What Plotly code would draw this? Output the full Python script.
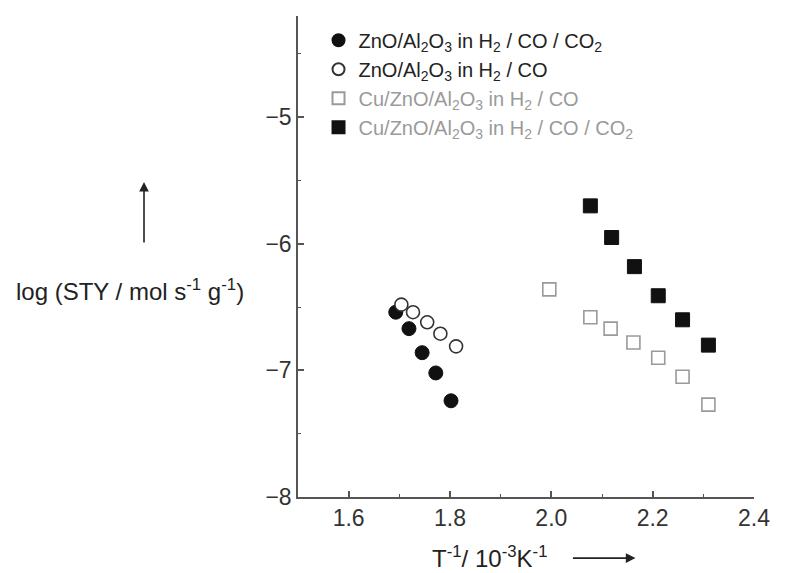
import plotly.graph_objects as go

# Data
x_zno_co2 = [1.693, 1.719, 1.745, 1.772, 1.802]
y_zno_co2 = [-6.54, -6.67, -6.86, -7.02, -7.24]

x_zno_co = [1.704, 1.727, 1.755, 1.781, 1.812]
y_zno_co = [-6.48, -6.54, -6.62, -6.71, -6.81]

x_cu_co = [1.996, 2.077, 2.117, 2.162, 2.211, 2.259, 2.310]
y_cu_co = [-6.36, -6.58, -6.67, -6.78, -6.90, -7.05, -7.27]

x_cu_co2 = [2.077, 2.119, 2.164, 2.211, 2.259, 2.310]
y_cu_co2 = [-5.70, -5.95, -6.18, -6.41, -6.60, -6.80]

names = [
    "ZnO/Al<sub>2</sub>O<sub>3</sub> in H<sub>2</sub> / CO / CO<sub>2</sub>",
    "ZnO/Al<sub>2</sub>O<sub>3</sub> in H<sub>2</sub> / CO",
    "<span style='color:#9a9a9a'>Cu/ZnO/Al<sub>2</sub>O<sub>3</sub> in H<sub>2</sub> / CO</span>",
    "<span style='color:#9a9a9a'>Cu/ZnO/Al<sub>2</sub>O<sub>3</sub> in H<sub>2</sub> / CO / CO<sub>2</sub></span>",
]

FONT = "Liberation Sans, Arial, sans-serif"

fig = go.Figure()
fig.add_trace(go.Scatter(x=x_zno_co2, y=y_zno_co2, mode="markers", name=names[0],
                         marker=dict(symbol="circle", size=14, color="#111111",
                                     line=dict(color="#111111", width=1))))
fig.add_trace(go.Scatter(x=x_zno_co, y=y_zno_co, mode="markers", name=names[1],
                         marker=dict(symbol="circle", size=13, color="white",
                                     line=dict(color="#333333", width=1.6))))
fig.add_trace(go.Scatter(x=x_cu_co, y=y_cu_co, mode="markers", name=names[2],
                         marker=dict(symbol="square", size=13, color="white",
                                     line=dict(color="#9a9a9a", width=1.6))))
fig.add_trace(go.Scatter(x=x_cu_co2, y=y_cu_co2, mode="markers", name=names[3],
                         marker=dict(symbol="square", size=14, color="#111111",
                                     line=dict(color="#111111", width=1))))

axis_common = dict(
    showline=True, linecolor="#555555", linewidth=1.5, mirror=False,
    showgrid=False, zeroline=False,
    ticks="inside", ticklen=6, tickwidth=1.5, tickcolor="#555555",
    tickfont=dict(family=FONT, size=23, color="#333333"),
)

fig.update_xaxes(range=[1.5, 2.4], tick0=1.6, dtick=0.2, tickformat=".1f",
                 minor=dict(ticks="inside", ticklen=3, tickwidth=1.2, tickcolor="#555555", dtick=0.1, tick0=1.5),
                 **axis_common)
fig.update_yaxes(range=[-8, -4.2], tick0=-8, dtick=1,
                 minor=dict(ticks="inside", ticklen=3, tickwidth=1.2, tickcolor="#555555", dtick=0.5, tick0=-8),
                 **axis_common)

title_font = dict(family=FONT, size=24, color="#222222")

fig.add_annotation(text="log (STY / mol s<sup>-1</sup> g<sup>-1</sup>)", xref="paper", yref="paper",
                   x=-0.368, y=0.430, showarrow=False, font=title_font, xanchor="center", yanchor="middle")
fig.add_annotation(text="", xref="paper", yref="paper", x=-0.3377, y=0.655,
                   ax=0, ay=62, showarrow=True, arrowhead=2, arrowsize=1.2, arrowwidth=1.6, arrowcolor="#222222")
fig.add_annotation(text="T<sup>-1</sup>/ 10<sup>-3</sup>K<sup>-1</sup>", xref="paper", yref="paper",
                   x=0.421, y=-0.125, showarrow=False, font=title_font, xanchor="center", yanchor="middle")
fig.add_annotation(text="", xref="paper", yref="paper", x=0.74, y=-0.127,
                   ax=-64, ay=0, showarrow=True, arrowhead=2, arrowsize=1.2, arrowwidth=1.6, arrowcolor="#222222")

fig.update_layout(
    width=798, height=573,
    margin=dict(l=298, r=44, t=16, b=76),
    paper_bgcolor="white", plot_bgcolor="white",
    showlegend=True,
    legend=dict(x=0.045, y=0.99, xanchor="left", yanchor="top", bgcolor="rgba(0,0,0,0)",
                font=dict(family=FONT, size=20, color="#222222"),
                itemsizing="constant", tracegroupgap=0),
)

fig.write_html("out.html")
